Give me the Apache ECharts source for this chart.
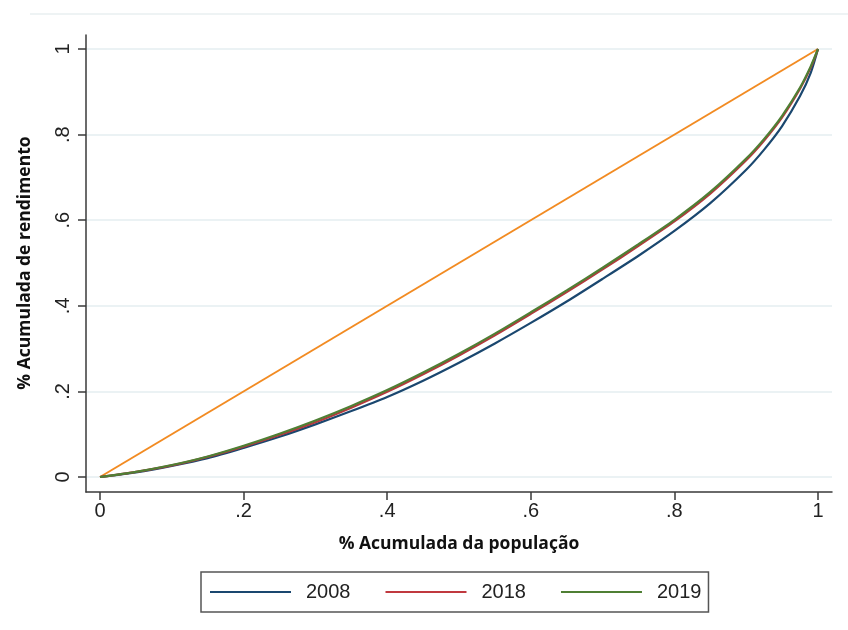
<!DOCTYPE html>
<html>
<head>
<meta charset="utf-8">
<script src="https://cdn.jsdelivr.net/npm/echarts@6/dist/echarts.min.js"></script>
<style>html,body{margin:0;padding:0;background:#fff}#c{width:848px;height:630px}</style>
</head>
<body>
<div id="c"></div>
<script>
const popShare = [0,0.05,0.1,0.15,0.2,0.25,0.3,0.35,0.4,0.45,0.5,0.55,0.6,0.65,0.7,0.75,0.8,0.85,0.9,0.925,0.95,0.975,0.99,1];
const inc2008 = [0,0.011,0.026,0.044,0.068,0.094,0.123,0.154,0.187,0.225,0.267,0.312,0.360,0.410,0.463,0.517,0.575,0.640,0.718,0.765,0.820,0.890,0.945,1];
const inc2018 = [0,0.012,0.027,0.047,0.071,0.098,0.128,0.162,0.199,0.240,0.284,0.331,0.381,0.432,0.485,0.540,0.597,0.662,0.740,0.786,0.840,0.907,0.957,1];
const inc2019 = [0,0.012,0.028,0.048,0.073,0.101,0.132,0.166,0.203,0.244,0.288,0.335,0.385,0.436,0.489,0.544,0.601,0.666,0.744,0.790,0.844,0.910,0.960,1];
const equality = [[0,0],[1,1]];
const seriesNames = ['2008','2018','2019'];
const tickValues = [0,0.2,0.4,0.6,0.8,1];
const tickLabels = ['0','.2','.4','.6','.8','1'];

function pairs(ys){ return popShare.map((x,i)=>[x, ys[i]]); }
function fmt(v){ const i = tickValues.findIndex(t=>Math.abs(t-v)<1e-6); return i>=0 ? tickLabels[i] : ''; }

const chart = echarts.init(document.getElementById('c'), null, {renderer:'canvas'});
const axisColor = '#3a3a3a';
const gridColor = '#e4eef0';
const labelFont = {fontFamily:'Liberation Sans, Arial, sans-serif', fontSize:20, color:'#222'};
const nameFont = {fontFamily:'Open Sans, Noto Sans, sans-serif', fontSize:17.5, fontWeight:'bold', color:'#111'};

chart.setOption({
  backgroundColor:'#fff',
  animation:false,
  graphic:[{type:'line', shape:{x1:30,y1:14,x2:848,y2:14}, style:{stroke:'#e9eff1', lineWidth:1.5}}],
  grid:[
    {left:86, right:16, top:35, bottom:138},
    {left:100, right:30, top:49, bottom:153}
  ],
  xAxis:[
    {gridIndex:0, type:'value', min:-14/718, max:1+14/718,
     axisLine:{show:true, onZero:false, lineStyle:{color:axisColor, width:1.5}}, axisTick:{show:false}, axisLabel:{show:false}, splitLine:{show:false}},
    {gridIndex:1, type:'value', min:0, max:1, interval:0.2, offset:15,
     axisLine:{show:false, onZero:false}, axisTick:{show:true, inside:false, length:8, lineStyle:{color:axisColor, width:1.5}},
     axisLabel:Object.assign({margin:9, formatter:fmt}, labelFont),
     splitLine:{show:false},
     name:'% Acumulada da população', nameLocation:'middle', nameGap:43, nameTextStyle:nameFont}
  ],
  yAxis:[
    {gridIndex:0, type:'value', min:-15/428, max:1+14/428,
     axisLine:{show:true, onZero:false, lineStyle:{color:axisColor, width:1.5}},
     axisTick:{show:false, customValues:tickValues}, axisLabel:{show:false, customValues:tickValues},
     splitLine:{show:true, customValues:tickValues, lineStyle:{color:gridColor, width:1.5}}},
    {gridIndex:1, type:'value', min:0, max:1, interval:0.2, offset:14,
     axisLine:{show:false, onZero:false}, axisTick:{show:true, inside:false, length:8, lineStyle:{color:axisColor, width:1.5}},
     axisLabel:Object.assign({margin:13, rotate:90, formatter:fmt}, labelFont),
     splitLine:{show:false},
     name:'% Acumulada de rendimento', nameLocation:'middle', nameGap:52, nameTextStyle:nameFont}
  ],
  legend:{
    data:seriesNames,
    left:201, top:572,
    orient:'horizontal',
    icon:'rect', itemWidth:81, itemHeight:2, itemGap:35,
    borderColor:'#555', borderWidth:1.5, borderRadius:0,
    padding:[10,7,10,9],
    textStyle:{fontFamily:'Liberation Sans, Arial, sans-serif', fontSize:20, color:'#222', padding:[0,0,0,10]}
  },
  series:[
    {name:'equality', type:'line', xAxisIndex:1, yAxisIndex:1, data:equality, showSymbol:false, lineStyle:{color:'#f28b22', width:2}, itemStyle:{color:'#f28b22'}},
    {name:seriesNames[0], type:'line', xAxisIndex:1, yAxisIndex:1, data:pairs(inc2008), smooth:0.25, showSymbol:false, lineStyle:{color:'#1a476f', width:2.2}, itemStyle:{color:'#1a476f'}},
    {name:seriesNames[1], type:'line', xAxisIndex:1, yAxisIndex:1, data:pairs(inc2018), smooth:0.25, showSymbol:false, lineStyle:{color:'#b5383d', width:2.2}, itemStyle:{color:'#c0393f'}},
    {name:seriesNames[2], type:'line', xAxisIndex:1, yAxisIndex:1, data:pairs(inc2019), smooth:0.25, showSymbol:false, lineStyle:{color:'#4f7f34', width:2.2}, itemStyle:{color:'#4f7f34'}}
  ]
});
</script>
</body>
</html>
